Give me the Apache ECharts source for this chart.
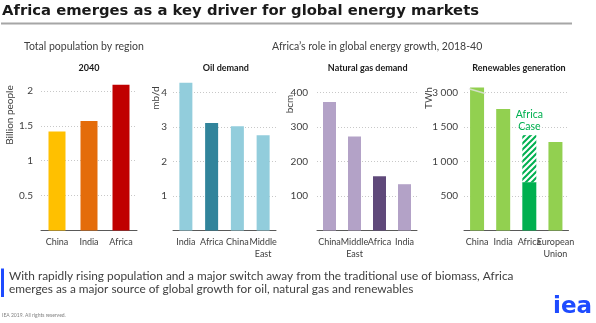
<!DOCTYPE html>
<html><head><meta charset="utf-8">
<script src="https://cdn.jsdelivr.net/npm/echarts@6/dist/echarts.min.js"></script>
<style>html,body{margin:0;padding:0;background:#fff}#c{width:596px;height:323px}</style>
</head><body><div id="c"></div>
<script>
// ---- data ----
const popCategories = ['China', 'India', 'Africa'];
const popValues = [1.42, 1.57, 2.09];
const oilCategories = ['India', 'Africa', 'China', 'Middle\nEast'];
const oilValues = [4.28, 3.11, 3.02, 2.76];
const gasCategories = ['China', 'Middle\nEast', 'Africa', 'India'];
const gasValues = [372, 272, 157, 134];
const renCategories = ['China', 'India', 'Africa', 'European\nUnion'];
const renValues = [3070, 1760, 700, 1280];
const renAfricaCase = 1380;
const renBreakFrom = 2000, renBreakTo = 3000;   // broken axis: 2000 on the scale is labelled 3000
const popTicks = 0.5, oilTicks = 1, gasTicks = 100, renTicks = 500;

// ---- helpers ----
const breakGap = renBreakTo - renBreakFrom;
const toScale = v => v > renBreakTo ? v - breakGap : v;
const fromScale = v => v >= renBreakFrom ? v + breakGap : v;
const fmtSpace = n => String(n).replace(/\B(?=(\d{3})+(?!\d))/g, ' ');

const FONT = 'Lato';
const TXT = '#404040';

function hatch() {
  const c = document.createElement('canvas'); c.width = c.height = 6;
  const x = c.getContext('2d');
  x.fillStyle = '#fff'; x.fillRect(0, 0, 6, 6);
  x.strokeStyle = '#00B050'; x.lineWidth = 2;
  x.beginPath();
  x.moveTo(-1, 7); x.lineTo(7, -1);
  x.moveTo(-1, 1); x.lineTo(1, -1);
  x.moveTo(5, 7); x.lineTo(7, 5);
  x.stroke();
  return c;
}

const grids = [
  { left: 41, right: 596 - 137, top: 77, bottom: 92.5 },
  { left: 173, right: 596 - 276, top: 78.5, bottom: 92.5 },
  { left: 317, right: 596 - 417, top: 78.5, bottom: 92.5 },
  { left: 464, right: 596 - 568.5, top: 78.5, bottom: 92.5 }
];

function xAx(i, cats) {
  return {
    type: 'category', gridIndex: i, data: cats,
    axisLine: { lineStyle: { color: '#595959', width: 1 } },
    axisTick: { show: false },
    axisLabel: { interval: 0, color: TXT, fontSize: 9, fontFamily: FONT, lineHeight: 12, margin: 6 }
  };
}
function yAx(i, max, interval, margin, fmt) {
  return {
    type: 'value', gridIndex: i, min: 0, max: max, interval: interval,
    axisLine: { show: false }, axisTick: { show: false },
    splitLine: { show: true, showMinLine: false, showMaxLine: false, lineStyle: { type: [1, 2], color: '#C8C8C8' } },
    axisLabel: { color: TXT, fontSize: 10, fontFamily: FONT, margin: margin, showMinLabel: false, showMaxLabel: false, formatter: fmt }
  };
}
const colorBy = (base, hi, hiIdx) => p => p.dataIndex === hiIdx ? hi : base;

const text = (x, y, t, o) => Object.assign({
  type: 'text', x: x, y: y,
  style: Object.assign({ text: t, fill: TXT, font: '10px ' + FONT, align: 'left', verticalAlign: 'middle', textAlign: 'left', textVerticalAlign: 'middle' }, (o && o.style) || {})
}, o ? { rotation: o.rotation || 0 } : {});
const vtext = (x, y, t) => ({ type: 'text', x: x, y: y, rotation: Math.PI / 2,
  style: { text: t, fill: TXT, font: '10px ' + FONT, align: 'center', verticalAlign: 'middle', textAlign: 'center', textVerticalAlign: 'middle' } });
const ptitle = (x, y, t) => text(x, y, t, { style: { font: 'bold 9px ' + FONT, fill: '#1a1a1a', align: 'center', textAlign: 'center' } });

const chart = echarts.init(document.getElementById('c'), null, { renderer: 'canvas' });
chart.setOption({
  animation: false,
  grid: grids,
  xAxis: [xAx(0, popCategories), xAx(1, oilCategories), xAx(2, gasCategories), xAx(3, renCategories)],
  yAxis: [
    yAx(0, 2.2, popTicks, 8),
    yAx(1, 4.4, oilTicks, 6),
    yAx(2, 440, gasTicks, 9),
    yAx(3, 2200, renTicks, 6, v => fmtSpace(fromScale(v)))
  ],
  series: [
    { type: 'bar', xAxisIndex: 0, yAxisIndex: 0, data: popValues, barWidth: 17,
      itemStyle: { color: p => ['#FFC000', '#E46C0A', '#C00000'][p.dataIndex] } },
    { type: 'bar', xAxisIndex: 1, yAxisIndex: 1, data: oilValues, barWidth: 13,
      itemStyle: { color: colorBy('#92CDDC', '#31849B', oilCategories.indexOf('Africa')) } },
    { type: 'bar', xAxisIndex: 2, yAxisIndex: 2, data: gasValues, barWidth: 13,
      itemStyle: { color: colorBy('#B3A2C7', '#5F497A', gasCategories.indexOf('Africa')) } },
    { type: 'bar', xAxisIndex: 3, yAxisIndex: 3, stack: 'ren', data: renValues.map(toScale), barWidth: 14,
      itemStyle: { color: colorBy('#92D050', '#00B050', renCategories.indexOf('Africa')) } },
    { type: 'bar', xAxisIndex: 3, yAxisIndex: 3, stack: 'ren', barWidth: 14,
      data: renCategories.map((c, i) => c === 'Africa' ? renAfricaCase - renValues[i] : '-'),
      itemStyle: { color: { image: hatch(), repeat: 'repeat' } },
      label: { show: true, position: 'top', distance: 3, formatter: 'Africa\nCase', color: '#00B050', fontSize: 10.5, lineHeight: 12, fontFamily: FONT } },
    { type: 'scatter', xAxisIndex: 3, yAxisIndex: 3, silent: true, z: 5,
      data: [['China', renBreakFrom + 17]], symbol: 'rect', symbolSize: [17, 1.6], symbolRotate: -16,
      itemStyle: { color: '#E4E4E4' } }
  ],
  graphic: [
    text(2, 11, 'Africa emerges as a key driver for global energy markets', { style: { font: 'bold 14.8px "DejaVu Sans"', fill: '#1a1a1a' } }),
    { type: 'rect', shape: { x: 1, y: 22.5, width: 571, height: 2 }, style: { fill: '#A6A6A6' } },
    text(24, 46.7, 'Total population by region', { style: { font: '10.5px ' + FONT } }),
    text(272, 46.7, 'Africa\u2019s role in global energy growth, 2018-40', { style: { font: '10.5px ' + FONT } }),
    ptitle(89, 67.7, '2040'),
    ptitle(225.8, 68.3, 'Oil demand'),
    ptitle(367.7, 68.3, 'Natural gas demand'),
    ptitle(519, 68.3, 'Renewables generation'),
    vtext(10, 115, 'Billion people'),
    vtext(156, 98, 'mb/d'),
    vtext(290, 104, 'bcm'),
    vtext(428.5, 98, 'TWh'),
    { type: 'rect', shape: { x: 1, y: 268.5, width: 3, height: 28.5 }, style: { fill: '#1E4BFF' } },
    text(9, 276.5, 'With rapidly rising population and a major switch away from the traditional use of biomass, Africa', { style: { font: '11.85px ' + FONT } }),
    text(9, 289, 'emerges as a major source of global growth for oil, natural gas and renewables', { style: { font: '11.85px ' + FONT } }),
    text(2, 315.5, 'IEA 2019. All rights reserved.', { style: { font: '5px ' + FONT, fill: '#808080' } }),
    text(553, 307, 'iea', { style: { font: 'bold 23px "DejaVu Sans"', fill: '#1E4BFF' } })
  ]
});
</script>
</body></html>
